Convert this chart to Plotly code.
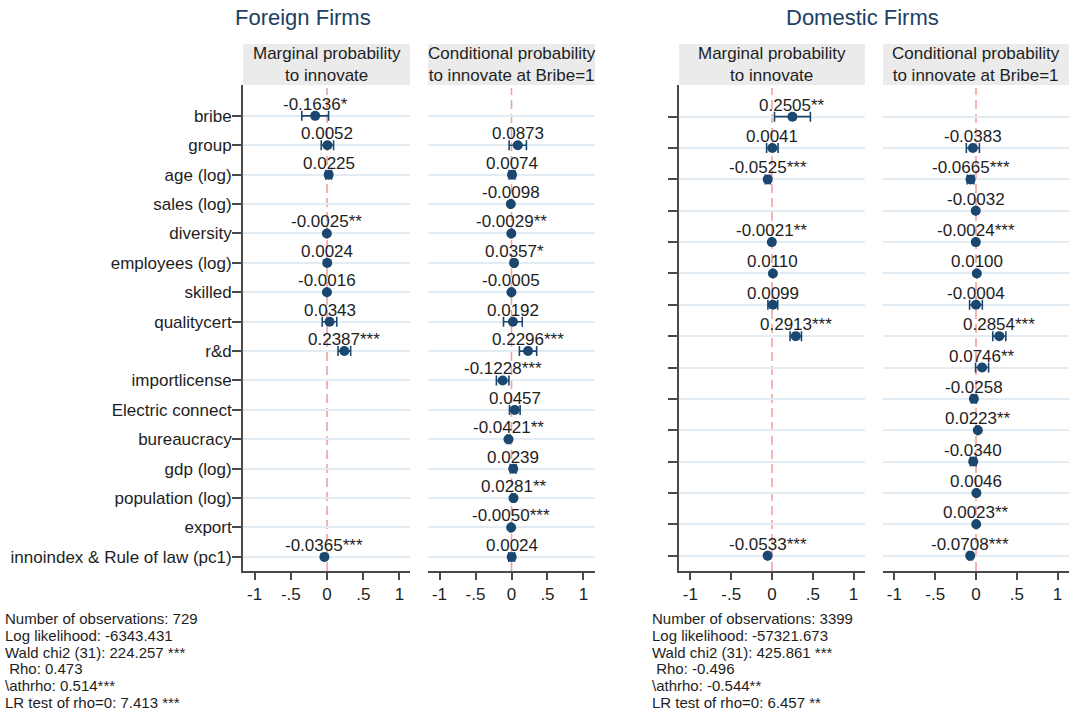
import plotly.graph_objects as go

# ---- data -----------------------------------------------------------------
foreign_rows = [
    "bribe", "group", "age (log)", "sales (log)", "diversity", "employees (log)",
    "skilled", "qualitycert", "r&d", "importlicense", "Electric connect",
    "bureaucracy", "gdp (log)", "population (log)", "export",
    "innoindex & Rule of law (pc1)",
]
domestic_rows = [
    "bribe", "group", "age (log)", "sales (log)", "diversity", "employees (log)",
    "skilled", "r&d", "importlicense", "Electric connect", "bureaucracy",
    "gdp (log)", "population (log)", "export", "innoindex & Rule of law (pc1)",
]

# Foreign firms: marginal probability to innovate
f_marg_coef = [-0.1636, 0.0052, 0.0225, None, -0.0025, 0.0024, -0.0016, 0.0343,
               0.2387, None, None, None, None, None, None, -0.0365]
f_marg_stars = ["*", "", "", "", "**", "", "", "", "***", "", "", "", "", "", "", "***"]
f_marg_ci = [0.185, 0.085, 0.04, None, 0.0, 0.0, 0.0, 0.10,
             0.087, None, None, None, None, None, None, 0.0]

# Foreign firms: conditional probability to innovate at Bribe=1
f_cond_coef = [None, 0.0873, 0.0074, -0.0098, -0.0029, 0.0357, -0.0005, 0.0192,
               0.2296, -0.1228, 0.0457, -0.0421, 0.0239, 0.0281, -0.0050, 0.0024]
f_cond_stars = ["", "", "", "", "**", "*", "", "", "***", "***", "", "**", "", "**", "***", ""]
f_cond_ci = [None, 0.12, 0.04, 0.01, 0.005, 0.02, 0.01, 0.13,
             0.12, 0.087, 0.074, 0.02, 0.04, 0.02, 0.01, 0.04]

# Domestic firms: marginal probability to innovate
d_marg_coef = [0.2505, 0.0041, -0.0525, None, -0.0021, 0.0110, 0.0099, 0.2913,
               None, None, None, None, None, None, -0.0533]
d_marg_stars = ["**", "", "***", "", "**", "", "", "***", "", "", "", "", "", "", "***"]
d_marg_ci = [0.22, 0.07, 0.03, None, 0.0, 0.0, 0.06, 0.07,
             None, None, None, None, None, None, 0.0]

# Domestic firms: conditional probability to innovate at Bribe=1
d_cond_coef = [None, -0.0383, -0.0665, -0.0032, -0.0024, 0.0100, -0.0004, 0.2854,
               0.0746, -0.0258, 0.0223, -0.0340, 0.0046, 0.0023, -0.0708]
d_cond_stars = ["", "", "***", "", "***", "", "", "***", "**", "", "**", "", "", "**", "***"]
d_cond_ci = [None, 0.08, 0.04, 0.0, 0.0, 0.0, 0.078, 0.08,
             0.08, 0.03, 0.01, 0.035, 0.01, 0.01, 0.02]

x_tickvals = [-1, -0.5, 0, 0.5, 1]
x_ticktext = ["-1", "-.5", "0", ".5", "1"]

panel_titles = ["Marginal probability<br>to innovate",
                "Conditional probability<br>to innovate at Bribe=1"]
group_titles = ["Foreign Firms", "Domestic Firms"]

foreign_stats = [
    "Number of observations: 729",
    "Log likelihood: -6343.431",
    "Wald chi2 (31): 224.257 ***",
    "\u00a0Rho: 0.473",
    "\\athrho: 0.514***",
    "LR test of rho=0: 7.413 ***",
]
domestic_stats = [
    "Number of observations: 3399",
    "Log likelihood: -57321.673",
    "Wald chi2 (31): 425.861 ***",
    "\u00a0Rho: -0.496",
    "\\athrho: -0.544**",
    "LR test of rho=0: 6.457 **",
]

# ---- layout geometry (pixels) ---------------------------------------------
W, H = 1073, 718
NAVY = "#1a476f"
TXT = "#1e1e1e"
AXC = "#4a4a4a"
GRID = "#e3ecf2"
FONT = "Liberation Sans, Arial, sans-serif"
FS = 17


def fx(p):
    return p / W


def fy(p):
    return 1 - p / H


plot_top, plot_bot = 85, 571
strip_top = 44

panels = [
    dict(coef=f_marg_coef, stars=f_marg_stars, ci=f_marg_ci, rows=foreign_rows,
         xpx=(243, 410), xr=[-1.16, 1.145], yr=[15.48, -1.05], yline=True, ylabels=True,
         title=panel_titles[0]),
    dict(coef=f_cond_coef, stars=f_cond_stars, ci=f_cond_ci, rows=foreign_rows,
         xpx=(428, 595), xr=[-1.16, 1.16], yr=[15.48, -1.05], yline=False, ylabels=False,
         title=panel_titles[1]),
    dict(coef=d_marg_coef, stars=d_marg_stars, ci=d_marg_ci, rows=domestic_rows,
         xpx=(679, 865), xr=[-1.14, 1.14], yr=[14.49, -1.01], yline=True, ylabels=False,
         title=panel_titles[0]),
    dict(coef=d_cond_coef, stars=d_cond_stars, ci=d_cond_ci, rows=domestic_rows,
         xpx=(883, 1069), xr=[-1.14, 1.14], yr=[14.49, -1.01], yline=False, ylabels=False,
         title=panel_titles[1]),
]

fig = go.Figure()
shapes = []
annotations = []
layout_axes = {}

for i, p in enumerate(panels, start=1):
    sfx = "" if i == 1 else str(i)
    xa, ya = "x" + sfx, "y" + sfx

    idx = [k for k, v in enumerate(p["coef"]) if v is not None]
    xs = [p["coef"][k] for k in idx]
    ys = [k for k in idx]
    ci = [p["ci"][k] for k in idx]

    fig.add_trace(go.Scatter(
        x=xs, y=ys, xaxis=xa, yaxis=ya,
        mode="markers",
        marker=dict(size=10, color=NAVY),
        error_x=dict(type="data", array=ci, symmetric=True,
                     color=NAVY, thickness=1.6, width=5),
        showlegend=False, cliponaxis=False,
    ))

    # coefficient labels sitting just above each marker
    for k in idx:
        annotations.append(dict(
            text=f"{p['coef'][k]:.4f}{p['stars'][k]}",
            x=p["coef"][k], y=k, xref=xa, yref=ya,
            xanchor="center", yanchor="bottom", yshift=0,
            showarrow=False,
            font=dict(size=FS, color=TXT, family=FONT),
        ))

    dom_x = [fx(p["xpx"][0]), fx(p["xpx"][1])]
    dom_y = [fy(plot_bot), fy(plot_top)]
    nrows = len(p["rows"])

    layout_axes["xaxis" + sfx] = dict(
        domain=dom_x, range=p["xr"], anchor=ya,
        tickvals=x_tickvals, ticktext=x_ticktext,
        ticks="outside", ticklen=7, tickwidth=1.5, tickcolor=AXC,
        showline=True, linecolor=AXC, linewidth=1.8,
        showgrid=False, zeroline=False,
        tickfont=dict(size=FS, color=TXT, family=FONT),
    )
    layout_axes["yaxis" + sfx] = dict(
        domain=dom_y, range=p["yr"], anchor=xa,
        tickvals=list(range(nrows)),
        ticktext=p["rows"] if p["ylabels"] else [""] * nrows,
        showticklabels=p["ylabels"],
        ticks="outside" if p["yline"] else "", ticklen=9, tickwidth=1.5, tickcolor=AXC,
        ticklabelstandoff=-3,
        showline=p["yline"], linecolor=AXC, linewidth=1.8,
        showgrid=True, gridcolor=GRID, gridwidth=1.6,
        zeroline=False,
        tickfont=dict(size=FS, color=TXT, family=FONT),
    )

    # dashed reference line at zero
    shapes.append(dict(type="line", xref=xa, yref=ya + " domain",
                       x0=0, x1=0, y0=0, y1=0.994, layer="below",
                       line=dict(color="#f2a2a2", width=1.6, dash="9px,5px")))
    # grey strip header
    shapes.append(dict(type="rect", xref="paper", yref="paper",
                       x0=dom_x[0], x1=dom_x[1], y0=fy(plot_top), y1=fy(strip_top),
                       fillcolor="#ebebeb", line=dict(width=0), layer="below"))
    annotations.append(dict(
        text=p["title"], xref="paper", yref="paper",
        x=(dom_x[0] + dom_x[1]) / 2, y=fy((plot_top + strip_top) / 2),
        xanchor="center", yanchor="middle", showarrow=False,
        font=dict(size=FS, color=TXT, family=FONT),
    ))

# group titles
for title, cx in zip(group_titles, [302.5, 862]):
    annotations.append(dict(
        text=title, xref="paper", yref="paper", x=fx(cx), y=fy(18),
        xanchor="center", yanchor="middle", showarrow=False,
        font=dict(size=22, color="#1d3f63", family=FONT),
    ))

# model statistics below each group, one line per annotation
stat_y = [618.4, 635.2, 652.0, 668.8, 685.6, 702.4]
for lines, left in [(foreign_stats, 3), (domestic_stats, 650)]:
    for line, yy in zip(lines, stat_y):
        annotations.append(dict(
            text=line, xref="paper", yref="paper", x=fx(left), y=fy(yy),
            xanchor="left", yanchor="middle", showarrow=False,
            font=dict(size=15, color=TXT, family=FONT),
        ))

fig.update_layout(
    width=W, height=H,
    margin=dict(l=0, r=0, t=0, b=0),
    paper_bgcolor="white", plot_bgcolor="white",
    font=dict(family=FONT, color=TXT),
    shapes=shapes, annotations=annotations,
    **layout_axes,
)

fig.write_html("out.html")
